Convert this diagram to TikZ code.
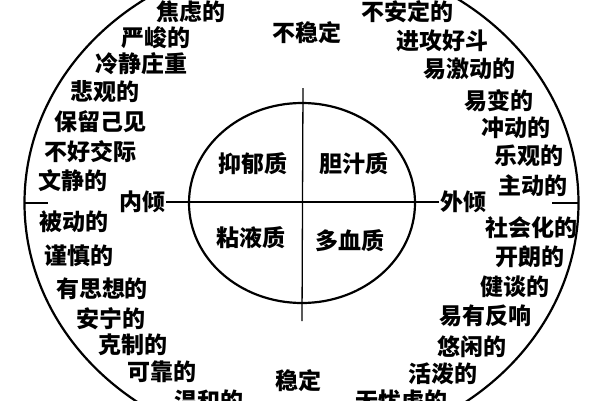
\documentclass[tikz,border=0pt]{standalone}
\usepackage{fontspec}
\newfontfamily\cjk{Noto Sans CJK SC}

\begin{document}
\begin{tikzpicture}[x=1pt, y=-1pt,
  trait/.style={font=\cjk\bfseries\fontsize{23}{26}\selectfont, inner sep=1pt},
  ring/.style={draw=black, line width=2.2pt},
  axis/.style={draw=black, line width=1.3pt}
]
\clip (0,0) rectangle (600,400);

% rings
\draw[ring] (301.5,203) ellipse [x radius=277pt, y radius=247pt];
\draw[ring] (302,203) ellipse [x radius=113pt, y radius=100pt];

% poles
\node[trait] (buwending) at (307,33) {不稳定};
\node[trait] (wending) at (298,381) {稳定};
\node[trait] (neiqing) at (142,202) {内倾};
\node[trait] (waiqing) at (463,202) {外倾};

% temperaments
\node[trait] (yiyu) at (253,164) {抑郁质};
\node[trait] (danzhi) at (354,164) {胆汁质};
\node[trait] (nianye) at (251,238) {粘液质};
\node[trait] (duoxue) at (350,241) {多血质};

% upper left
\node[trait] (jiaolv) at (191,12) {焦虑的};
\node[trait] (yanjun) at (156,38) {严峻的};
\node[trait] (lengjing) at (141,64) {冷静庄重};
\node[trait] (beiguan) at (105,92) {悲观的};
\node[trait] (baoliu) at (100,122) {保留己见};
\node[trait] (buhao) at (90,152) {不好交际};
\node[trait] (wenjing) at (73,181) {文静的};

% lower left
\node[trait] (beidong) at (74,222) {被动的};
\node[trait] (jinshen) at (79,256) {谨慎的};
\node[trait] (sixiang) at (102,289) {有思想的};
\node[trait] (anning) at (111,319) {安宁的};
\node[trait] (kezhi) at (133,345) {克制的};
\node[trait] (kekao) at (162,372) {可靠的};
\node[trait] (wenhe) at (209,401) {温和的};

% upper right
\node[trait] (buanding) at (407,12) {不安定的};
\node[trait] (jingong) at (442,41) {进攻好斗};
\node[trait] (yijidong) at (469,69) {易激动的};
\node[trait] (yibian) at (499,101) {易变的};
\node[trait] (chongdong) at (516,128) {冲动的};
\node[trait] (leguan) at (529,156) {乐观的};
\node[trait] (zhudong) at (533,186) {主动的};

% lower right
\node[trait] (shehui) at (531,228) {社会化的};
\node[trait] (kailang) at (530,257) {开朗的};
\node[trait] (jiantan) at (515,287) {健谈的};
\node[trait] (fanxiang) at (485,316) {易有反响};
\node[trait] (youxian) at (472,347) {悠闲的};
\node[trait] (huopo) at (443,374) {活泼的};
\node[trait] (wuyoulv) at (401,401) {无忧虑的};

% axes
\coordinate (vtop) at (303,88);
\coordinate (vbot) at (302,321);
\coordinate (edgeL) at (24,203);
\coordinate (stubL) at (48,203);
\coordinate (edgeR) at (579,203);
\coordinate (stubR) at (552,203);
\draw[axis] (neiqing) -- (waiqing);
\draw[axis] (vtop) -- (vbot);
\draw[axis] (edgeL) -- (stubL);
\draw[axis] (stubR) -- (edgeR);

\end{tikzpicture}
\end{document}
